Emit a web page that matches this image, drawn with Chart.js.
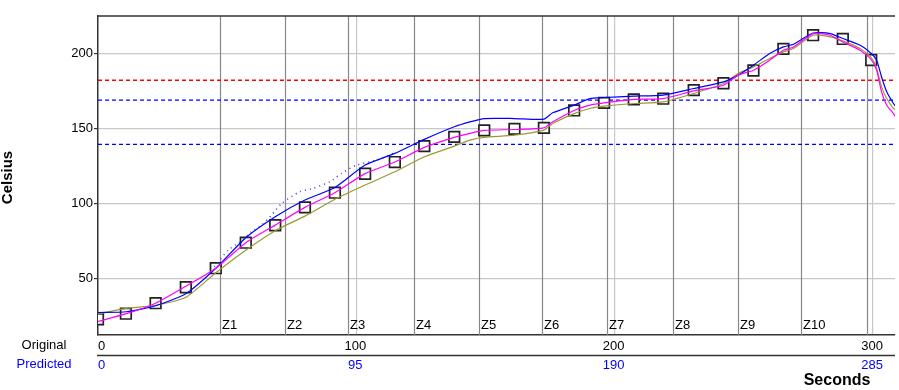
<!DOCTYPE html>
<html>
<head>
<meta charset="utf-8">
<script src="https://cdn.jsdelivr.net/npm/chart.js@4.4.1/dist/chart.umd.min.js"></script>
<style>
  body { margin: 0; background: #fff; }
  #wrap { width: 899px; height: 390px; }
</style>
</head>
<body>
<div id="wrap"><canvas id="c" width="899" height="390"></canvas></div>
<script>
const lineX = [0, 11, 22.3, 34, 45.6, 57.2, 68.6, 80.1, 91.7, 103.4, 114.9, 126.3, 137.9, 144, 149.5, 161.2,
  172.6, 176, 184.3, 190.4, 195.9, 207.4, 218.8, 230.6, 242.1, 247.8, 253.7, 260, 265.3, 269.2, 276.8,
  283.4, 288.3, 295, 299.3, 301.4, 303.3, 305.3, 307.9, 309];
const blueVals = [27.5, 28, 32, 40, 57, 77.3, 91.3, 102.4, 110.8, 125.7, 133.5, 142.8, 151.2, 154.5, 156.7, 156.7,
  156.3, 160.5, 165.6, 170, 170.7, 171.6, 172.3, 176.7, 181.1, 185.6, 192.2, 200, 204.4, 206.2, 213.7,
  213.3, 210, 205.5, 200, 195.5, 184.4, 174.5, 166.7, 164.3];
const magentaVals = [21.5, 26.7, 33.7, 45, 57, 74, 85.7, 97.5, 107.3, 120, 127.7, 137.5, 144.1, 146.8, 148.8, 149.4,
  150.5, 154.5, 162.1, 165.6, 167.1, 169.4, 170, 175.1, 178.9, 185.6, 188.9, 195.6, 202.2, 204.4, 213.3,
  212.2, 207.7, 202.2, 196, 188.9, 174.5, 165.6, 160, 157];
const oliveVals = [26.5, 30.2, 32.3, 37.6, 54, 69, 82, 91.7, 102.9, 112.4, 121.2, 131.2, 138.3, 142.3, 144.1, 145.6,
  149, 153.4, 160, 163.4, 164.9, 166.7, 167.8, 173.4, 180, 186.7, 191.1, 196.7, 201.1, 203.3, 212.2,
  211.1, 208.4, 203.3, 197.3, 190, 177.8, 170, 163.4, 162.3];

// scattered blue dots above the blue curve
const dotX = [45, 50.4, 54.3, 59.5, 63.4, 67.2, 71.1, 78.2, 83.3, 89.8, 94.3, 100.1, 107.9, 115];
const dotVals = [58, 69.1, 73.6, 81.3, 85.8, 92.4, 100.2, 108, 110.2, 114.6, 120.2, 125.7, 129, 134];

// square markers
const markX = [0, 10.8, 22.3, 34, 45.6, 57.2, 68.6, 80.1, 91.7, 103.4, 114.9, 126.3, 137.9, 149.5, 161.2,
  172.6, 184.3, 195.9, 207.4, 218.8, 230.6, 242.1, 253.7, 265.3, 276.8, 288.3, 299.3];
const markVals = [23, 26.7, 33.7, 44.3, 57, 74, 85.6, 97.5, 107.3, 119.9, 127.7, 138.3, 144.5, 148.8, 149.8,
  150.5, 162.1, 167.1, 169.4, 169.9, 175.6, 180.2, 188.7, 203.1, 212.2, 209.7, 195.7];

// dashed limit lines
const limitVals = [182.2, 168.9, 139.5];
const limitColors = ['#ff0000', '#0000ff', '#0000ff'];

// zone boundaries
const zoneX = [47.2, 72.4, 96.7, 122.3, 147.5, 171.9, 197, 222.6, 247.8, 272.2, 297.7];
const zoneLabels = ['Z1', 'Z2', 'Z3', 'Z4', 'Z5', 'Z6', 'Z7', 'Z8', 'Z9', 'Z10', ''];

const yTicks = [50, 100, 150, 200];
const xGridTicks = [100, 200, 300];
const origTicks = [0, 100, 200, 300];
const predTicks = [0, 95, 190, 285];
const predFactor = 0.95;
const xMax = 308.5;

Chart.defaults.font.family = 'Liberation Sans';
Chart.defaults.font.size = 13;
Chart.defaults.color = '#000';

function pts(xs, ys) { return xs.map((x, i) => ({ x: x, y: ys[i] })); }

const datasets = [
  { data: pts(lineX, magentaVals), borderColor: '#ff00ff', borderWidth: 1.2, pointRadius: 0, tension: 0.2 },
  { data: pts(lineX, blueVals), borderColor: '#0000ff', borderWidth: 1.2, pointRadius: 0, tension: 0.2 },
  { data: pts(lineX, oliveVals), borderColor: '#999933', borderWidth: 1.2, pointRadius: 0, tension: 0.2 },
  { data: pts(dotX, dotVals), borderColor: '#3a3aff', borderWidth: 1.5, borderDash: [1, 4], pointRadius: 0, tension: 0.2 },
  { data: pts(markX, markVals), showLine: false, pointStyle: 'rect', pointRadius: 7.5,
    pointBackgroundColor: '#fff', pointBorderColor: '#222', pointBorderWidth: 1.7 }
];
limitVals.forEach((v, i) => {
  datasets.push({ data: [{ x: 0, y: v }, { x: xMax, y: v }], borderColor: limitColors[i],
    borderWidth: 1.3, borderDash: [4, 3], pointRadius: 0 });
});

const decor = {
  id: 'decor',
  beforeDatasetsDraw(chart) {
    const ctx = chart.ctx, a = chart.chartArea, xs = chart.scales.x;
    ctx.save();
    ctx.strokeStyle = '#888';
    ctx.lineWidth = 1.2;
    ctx.font = '13px Liberation Sans';
    ctx.fillStyle = '#000';
    ctx.textBaseline = 'alphabetic';
    zoneX.forEach((z, i) => {
      const px = Math.round(xs.getPixelForValue(z)) + 0.5;
      ctx.beginPath(); ctx.moveTo(px, a.top); ctx.lineTo(px, a.bottom); ctx.stroke();
      ctx.fillText(zoneLabels[i], px + 1.5, 328.5);
    });
    ctx.restore();
  },
  afterDraw(chart) {
    const ctx = chart.ctx, a = chart.chartArea, xs = chart.scales.x;
    ctx.save();
    ctx.strokeStyle = '#333';
    ctx.lineWidth = 1.5;
    ctx.beginPath(); ctx.moveTo(a.left, a.top); ctx.lineTo(a.right, a.top); ctx.stroke();
    ctx.beginPath(); ctx.moveTo(a.left - 1, 355.5); ctx.lineTo(a.right, 355.5); ctx.stroke();

    ctx.textBaseline = 'middle';
    ctx.font = '13px Liberation Sans';
    ctx.textAlign = 'center';
    ctx.fillStyle = '#000';
    ctx.fillText('Original', 44, 345.5);
    ctx.fillStyle = '#0000ff';
    ctx.fillText('Predicted', 44, 364.5);
    origTicks.forEach((v, i) => {
      const px = xs.getPixelForValue(v);
      ctx.fillStyle = '#000';
      ctx.textAlign = i === 0 ? 'left' : 'center';
      ctx.fillText(String(v), i === 0 ? px : px - 1, 346);
    });
    predTicks.forEach((v, i) => {
      const px = xs.getPixelForValue(v / predFactor);
      ctx.fillStyle = '#0000ff';
      ctx.textAlign = i === 0 ? 'left' : 'center';
      ctx.fillText(String(v), i === 0 ? px : px - 1, 365);
    });

    ctx.fillStyle = '#000';
    ctx.font = 'bold 16px Liberation Sans';
    ctx.textAlign = 'center';
    ctx.fillText('Seconds', 837, 381);

    ctx.translate(8, 177.5);
    ctx.rotate(-Math.PI / 2);
    ctx.font = 'bold 15px Liberation Sans';
    ctx.fillText('Celsius', 0, 0);
    ctx.restore();
  }
};

new Chart(document.getElementById('c'), {
  type: 'line',
  data: { datasets: datasets },
  plugins: [decor],
  options: {
    responsive: false,
    animation: false,
    devicePixelRatio: 1,
    layout: { autoPadding: false, padding: { left: 0, top: 16, right: 4, bottom: 0 } },
    plugins: { legend: { display: false }, tooltip: { enabled: false } },
    scales: {
      x: {
        type: 'linear', min: 0, max: xMax,
        afterBuildTicks: s => { s.ticks = xGridTicks.map(v => ({ value: v })); },
        afterFit: s => { s.height = 55; },
        ticks: { display: false },
        grid: { color: '#c8c8c8', lineWidth: 1.2, drawTicks: false },
        border: { color: '#333', width: 1.5 }
      },
      y: {
        type: 'linear', min: 12.5, max: 225,
        afterBuildTicks: s => { s.ticks = yTicks.map(v => ({ value: v })); },
        afterFit: s => { s.width = 98; },
        ticks: { padding: 1, color: '#000', font: { size: 13 } },
        grid: { color: '#c8c8c8', lineWidth: 1.2, tickColor: '#333', tickLength: 4 },
        border: { color: '#333', width: 1.5 }
      }
    }
  }
});
</script>
</body>
</html>
